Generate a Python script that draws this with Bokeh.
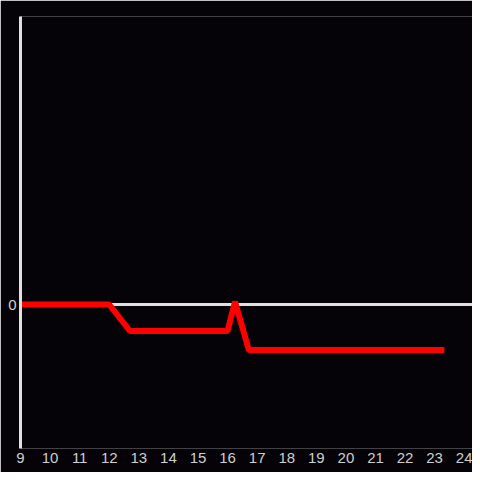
from bokeh.plotting import figure
from bokeh.models import FixedTicker, Span, Range1d
from bokeh.embed import file_html
from bokeh.resources import INLINE

hours = [9, 12, 12.7, 16.0, 16.25, 16.72, 23.33]
values = [0, 0, -0.184, -0.184, 0.02, -0.316, -0.316]
x_ticks = list(range(9, 25))
y_ticks = [0]

BG = "#050307"
AX = "#e0e0e0"
LBL = "#d0d0d0"

p = figure(width=472, height=472, output_backend="svg", toolbar_location=None,
           x_range=Range1d(9, 24.28), y_range=Range1d(-1, 2),
           min_border_left=20, min_border_right=0, min_border_top=16, min_border_bottom=24)
p.background_fill_color = BG
p.border_fill_color = BG
p.outline_line_color = None
p.grid.visible = False

p.xaxis.ticker = FixedTicker(ticks=x_ticks)
p.xaxis.axis_line_color = None
p.xaxis.major_tick_line_color = None
p.xaxis.minor_tick_line_color = None
p.xaxis.major_tick_out = 0
p.xaxis.major_tick_in = 0
p.xaxis.minor_tick_out = 0
p.xaxis.major_label_text_color = LBL
p.xaxis.major_label_text_font = "Liberation Sans"
p.xaxis.major_label_text_font_size = "15px"
p.xaxis.major_label_standoff = 4

p.yaxis.ticker = FixedTicker(ticks=y_ticks)
p.yaxis.axis_line_color = AX
p.yaxis.axis_line_width = 3
p.yaxis.major_tick_line_color = None
p.yaxis.minor_tick_line_color = None
p.yaxis.major_tick_out = 0
p.yaxis.major_tick_in = 0
p.yaxis.minor_tick_out = 0
p.yaxis.major_label_text_color = LBL
p.yaxis.major_label_text_font = "Liberation Sans"
p.yaxis.major_label_text_font_size = "15px"
p.yaxis.major_label_standoff = 4

zero = Span(location=0, dimension="width", line_color=AX, line_width=3, level="underlay")
p.add_layout(zero)

p.line(hours, values, line_color="#ff0000", line_width=6)

open("out.html", "w").write(file_html(p, INLINE))
